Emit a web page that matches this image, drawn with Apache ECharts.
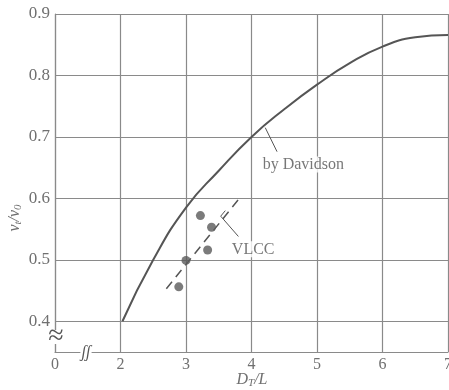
<!DOCTYPE html>
<html>
<head>
<meta charset="utf-8">
<script src="https://cdn.jsdelivr.net/npm/echarts@6/dist/echarts.min.js"></script>
<style>
  html, body { margin: 0; padding: 0; background: #fff; }
  #chart { width: 449px; height: 390px; }
</style>
</head>
<body>
<div id="chart"></div>
<script>
// Davidson curve
const davidsonX = [2.03, 2.5, 3.0, 3.5, 4.0, 4.5, 5.0, 5.5, 6.0, 6.5, 7.0];
const davidsonY = [0.40, 0.50, 0.585, 0.645, 0.70, 0.745, 0.785, 0.82, 0.847, 0.862, 0.866];

// VLCC measured points
const vlccX = [3.22, 3.39, 3.33, 3.0, 2.89];
const vlccY = [0.572, 0.553, 0.516, 0.499, 0.456];

// dashed trend through the VLCC points
const trendX = [2.70, 3.80];
const trendY = [0.453, 0.598];

// leader lines for the labels
const leaderDavX = [4.21, 4.39];
const leaderDavY = [0.715, 0.676];
const leaderVlccX = [3.60, 3.53, 3.80];
const leaderVlccY = [0.580, 0.571, 0.538];

const xTicks = [1, 2, 3, 4, 5, 6, 7];
const xTickLabels = ['0', '2', '3', '4', '5', '6', '7'];

const zip = (xs, ys) => xs.map((x, i) => [x, ys[i]]);

const ink = '#555';
const labelGray = '#707070';
const gridColor = '#8a8a8a';
const serif = '"Liberation Serif", "DejaVu Serif", serif';

const nameRich = {
    i: { fontFamily: serif, fontStyle: 'italic', fontSize: 16, fill: labelGray },
    s: { fontFamily: serif, fontStyle: 'italic', fontSize: 11, fill: labelGray, padding: [7, 0, 0, 0] }
};

const chart = echarts.init(document.getElementById('chart'));
chart.setOption({
    animation: false,
    backgroundColor: '#fff',
    grid: { left: 55, right: 1, top: 14, bottom: 38, show: false, outerBoundsMode: 'none', containLabel: false },
    xAxis: {
        type: 'value',
        min: 1,
        max: 7,
        interval: 1,
        axisLine: { lineStyle: { color: gridColor, width: 1.2 } },
        axisTick: { show: false },
        axisLabel: {
            fontFamily: serif, fontSize: 16, color: labelGray, margin: 5,
            formatter: v => {
                const i = xTicks.indexOf(Math.round(v));
                return i >= 0 ? xTickLabels[i] : '';
            }
        },
        splitLine: { show: true, lineStyle: { color: gridColor, width: 1.2 } }
    },
    yAxis: {
        type: 'value',
        min: 0.35,
        max: 0.9,
        interval: 0.05,
        axisLine: { show: true, lineStyle: { color: gridColor, width: 1.2 } },
        axisTick: { show: false },
        axisLabel: {
            fontFamily: serif, fontSize: 17, color: labelGray, margin: 5,
            formatter: v => {
                const r = Math.round(v * 100);
                return (r >= 40 && r % 10 === 0) ? (r / 100).toFixed(1) : '';
            }
        },
        splitLine: {
            show: true,
            lineStyle: { color: ['rgba(0,0,0,0)', gridColor], width: 1.2 }
        }
    },
    series: [
        {
            type: 'line',
            data: zip(davidsonX, davidsonY),
            smooth: true,
            symbol: 'none',
            lineStyle: { color: ink, width: 2 },
            z: 3
        },
        {
            type: 'line',
            data: zip(trendX, trendY),
            symbol: 'none',
            lineStyle: { color: ink, width: 1.5, type: [9, 6] },
            z: 3
        },
        {
            type: 'scatter',
            data: zip(vlccX, vlccY),
            symbolSize: 9,
            itemStyle: { color: '#5a5a5a' },
            z: 4
        },
        {
            type: 'line',
            data: zip(leaderDavX, leaderDavY),
            symbol: 'none',
            lineStyle: { color: ink, width: 1 }
        },
        {
            type: 'line',
            data: zip(leaderVlccX, leaderVlccY),
            symbol: 'none',
            lineStyle: { color: ink, width: 1 }
        },
        {
            type: 'scatter',
            symbolSize: 0,
            data: [
                { value: [4.17, 0.655], label: { formatter: 'by Davidson' } },
                { value: [3.70, 0.517], label: { formatter: 'VLCC' } }
            ],
            label: {
                show: true,
                position: 'right',
                distance: 0,
                fontFamily: serif,
                fontSize: 16,
                color: ink,
                backgroundColor: '#fff'
            },
            z: 5
        }
    ],
    graphic: [
        // axis titles
        {
            type: 'text',
            x: 252,
            y: 380,
            style: {
                text: '{i|D}{s|T}{i|/L}',
                rich: nameRich,
                align: 'center',
                verticalAlign: 'middle'
            }
        },
        {
            type: 'text',
            x: 15,
            y: 218,
            rotation: Math.PI / 2,
            style: {
                text: '{i|v}{s|t}{i|/v}{s|0}',
                rich: nameRich,
                align: 'center',
                verticalAlign: 'middle'
            }
        },
        // axis break marks
        {
            type: 'text',
            x: 56,
            y: 337,
            style: {
                text: '\u2248',
                fontFamily: serif,
                fontSize: 28,
                fill: ink,
                align: 'center',
                verticalAlign: 'middle',
                backgroundColor: '#fff',
                lineHeight: 14
            },
            z: 10
        },
        {
            type: 'text',
            x: 86,
            y: 353,
            style: {
                text: '\u0283\u0283',
                fontFamily: serif,
                fontStyle: 'italic',
                fontSize: 16,
                fill: ink,
                align: 'center',
                verticalAlign: 'middle',
                backgroundColor: '#fff',
                padding: [0, 1]
            },
            z: 10
        }
    ]
});
</script>
</body>
</html>
